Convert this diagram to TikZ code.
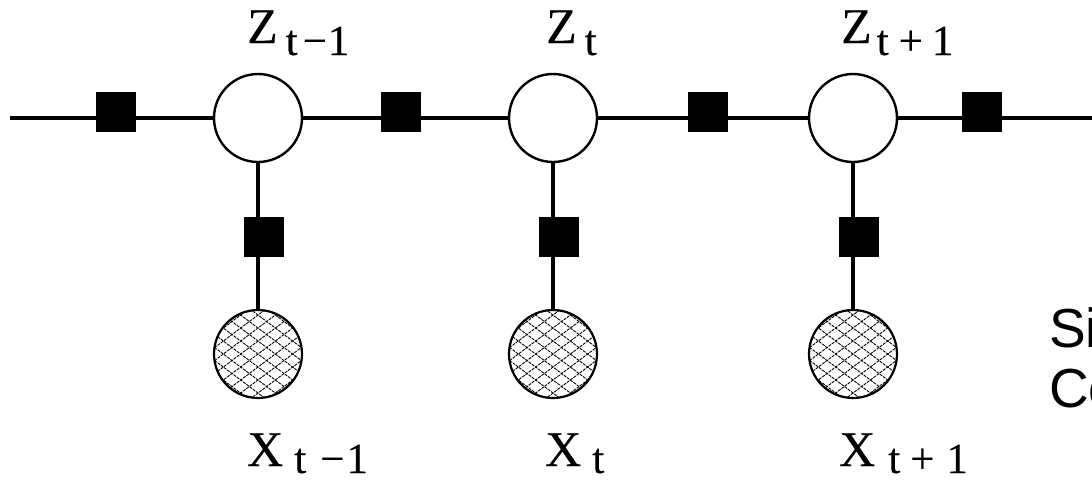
\documentclass[tikz,border=0pt]{standalone}
\usepackage{fontspec}
\setmainfont{Liberation Serif}
\newfontfamily\serifft[FakeBold=0.3]{Liberation Serif}
\newfontfamily\sansf{Liberation Sans}
\pgfdeclarelayer{bg}
\pgfsetlayers{bg,main}
\tikzset{
  hatchline/.style={line width=0.9pt, black, dash pattern=on 3pt off 1pt},
  latent/.style={circle, draw, line width=2.4pt, fill=white, minimum size=88pt, inner sep=0pt},
  observed/.style={latent, line width=2.2pt, path picture={
     \begin{scope}[shift={(path picture bounding box.center)}]
       \foreach \k in {-8,...,8}{
         \draw[hatchline] (-50,\k*13-37.5) -- (50,\k*13+37.5);
         \draw[hatchline] (-50,\k*13+37.5) -- (50,\k*13-37.5);
       }
     \end{scope}}},
  factor/.style={rectangle, fill=black, minimum size=40pt, inner sep=0pt},
  edge/.style={line width=3.2pt},
  lab/.style={anchor=base west, inner sep=0pt, font=\serifft\fontsize{50}{52}\selectfont},
  sidetext/.style={anchor=base west, inner sep=0pt, font=\sansf\fontsize{55}{60}\selectfont}
}
\newcommand{\subZ}[1]{\raisebox{-12pt}{\fontsize{43}{45}\selectfont #1}}
\newcommand{\subX}[1]{\raisebox{-7pt}{\fontsize{43}{45}\selectfont #1}}
\begin{document}
\begin{tikzpicture}[x=1pt,y=-1pt]
\useasboundingbox (0,0) rectangle (1092,480);
\clip (0,0) rectangle (1092,480);
% latent variables
\node[latent] (z1) at (258,118) {};
\node[latent] (z2) at (553,118) {};
\node[latent] (z3) at (853,118) {};
% observed variables
\node[observed] (x1) at (258,354) {};
\node[observed] (x2) at (553,354) {};
\node[observed] (x3) at (853,354) {};
% factors on the chain
\node[factor] (f0) at (116,112) {};
\node[factor] (f1) at (401,112) {};
\node[factor] (f2) at (708,112) {};
\node[factor] (f3) at (982,112) {};
% emission factors
\node[factor] (g1) at (264,237) {};
\node[factor] (g2) at (559,237) {};
\node[factor] (g3) at (859,237) {};
\coordinate (start) at (10,118);
\coordinate (end) at (1092,118);
\begin{pgfonlayer}{bg}
\draw[edge] (start) -- (z1);
\draw[edge] (z1) -- (z2);
\draw[edge] (z2) -- (z3);
\draw[edge] (z3) -- (end);
\draw[edge] (z1) -- (x1);
\draw[edge] (z2) -- (x2);
\draw[edge] (z3) -- (x3);
\end{pgfonlayer}
% labels
\node[lab] (lz1) at (247,43) {Z\hspace{8pt}\subZ{t\hspace{5pt}−\hspace{1pt}1}};
\node[lab] (lz2) at (546,43) {Z\hspace{8pt}\subZ{t}};
\node[lab] (lz3) at (841,43) {Z\hspace{5pt}\subZ{t\hspace{10pt}+\hspace{9pt}1}};
\node[lab] (lx1) at (247,466) {X\hspace{11pt}\subX{t\hspace{14pt}−\hspace{2pt}1}};
\node[lab] (lx2) at (545,466) {X\hspace{11pt}\subX{t}};
\node[lab] (lx3) at (839,466) {X\hspace{13pt}\subX{t\hspace{10pt}+\hspace{12pt}1}};
\node[sidetext] (s1) at (1049,347) {Si};
\node[sidetext] (s2) at (1049,407) {Co};
\end{tikzpicture}
\end{document}
